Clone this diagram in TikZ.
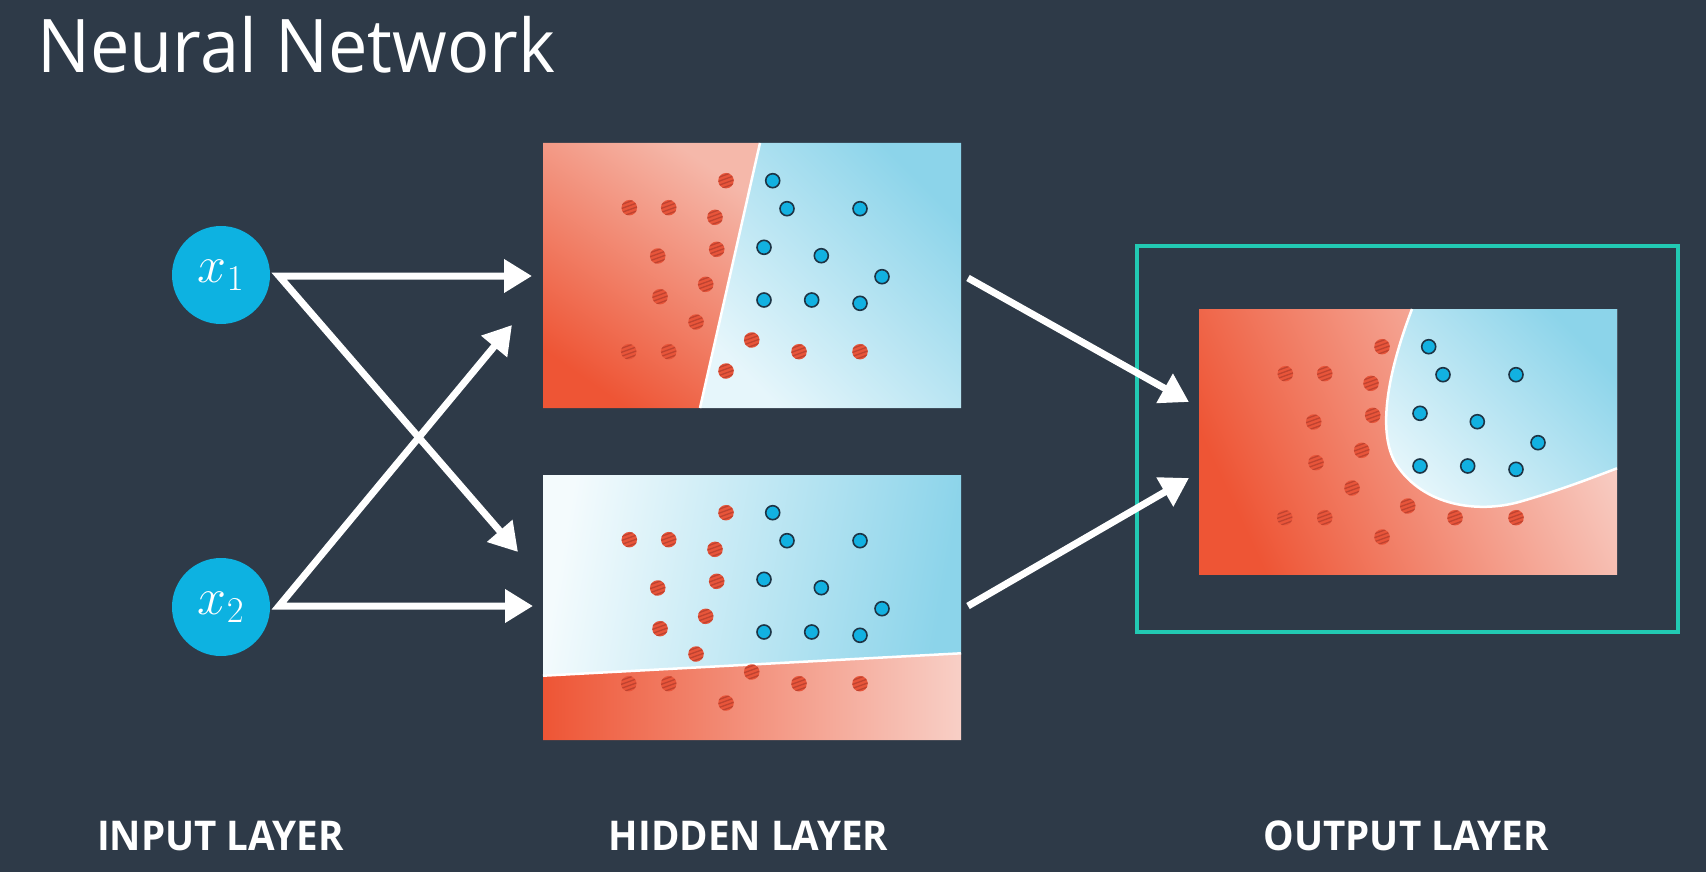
\documentclass[tikz,border=0pt]{standalone}
\usepackage{fix-cm}
\usepackage[no-math]{fontspec}
\setmainfont{Open Sans}
\newfontfamily\titlefont[FakeStretch=0.95]{Open Sans}
\newfontfamily\labelfont[FakeStretch=0.94]{Open Sans}
\usetikzlibrary{arrows.meta}
\definecolor{bg}{HTML}{2E3A48}
\definecolor{nodecyan}{HTML}{0DB2E1}
\definecolor{frameteal}{HTML}{22C9B3}
\definecolor{redS}{HTML}{EE5535}
\definecolor{redL}{HTML}{F8CFC6}
\definecolor{redM}{HTML}{F5B8AA}
\definecolor{blueS}{HTML}{8CD4EA}
\definecolor{blueL}{HTML}{E6F6FB}
\definecolor{blueW}{HTML}{F4FBFD}
\definecolor{dotred}{HTML}{E8553A}
\definecolor{dotstripe}{HTML}{BF4330}
\definecolor{dotblue}{HTML}{12B1E1}
\definecolor{dotline}{HTML}{1D3445}
\tikzset{
  rdot/.style={circle, inner sep=0pt, minimum size=15.5pt, fill=dotred,
    path picture={\foreach \k in {-6,-2,2,6}{\draw[dotstripe, line width=1.3pt]
      ([xshift=-10pt,yshift=\k pt-3.6pt]path picture bounding box.center) --
      ([xshift=10pt,yshift=\k pt+3.6pt]path picture bounding box.center);}}},
  bdot/.style={circle, inner sep=0pt, minimum size=14pt, fill=dotblue, draw=dotline, line width=1.6pt},
  inode/.style={circle, fill=nodecyan, minimum size=98pt, inner sep=0pt, text=white, font=\fontsize{52}{56}\selectfont},
  arrowline/.style={draw=white, line width=7pt, line join=miter},
  bnd/.style={draw=white, line width=2.5pt},
  lbl/.style={text=white, anchor=base, font=\labelfont\bfseries\fontsize{41}{44}\selectfont},
  tip/.tip={Triangle[length=28pt,width=32pt]}
}
\newcommand\drawdots[1]{%
  \foreach \px/\py [count=\i] in {183/37.7, 86.3/64.7, 125.7/64.7, 172/74.3, 114.7/113, 173.7/106.3,
     162.7/141.3, 117/153.7, 153/179, 85.7/208.7, 125.7/208.7, 208.7/197, 256/208.7, 317/208.7, 183/228}
    {\node[rdot] (#1r\i) at (\px,\py) {};}
  \foreach \px/\py [count=\i] in {229.7/37.7, 244/65.7, 317/65.7, 221/104.3, 278.3/112.7, 339/133.7,
     221/157, 268.7/157, 317/160.3}
    {\node[bdot] (#1b\i) at (\px,\py) {};}
}
\begin{document}
\begin{tikzpicture}[x=1pt,y=-1pt]
\fill[bg] (0,0) rectangle (1706,872);
\useasboundingbox (0,0) rectangle (1706,872);

% title
\node[anchor=base west, inner sep=0pt, text=white, font=\titlefont\fontsize{74}{80}\selectfont] (title) at (37,73) {Neural Network};

% input nodes
\node[inode] (x1) at (221,275) {$x_1$};
\node[inode] (x2) at (221,607) {$x_2$};

% top hidden panel
\begin{scope}[shift={(543,143)}]
  \shade[top color=redM, bottom color=redS, shading angle=-35] (0,0) -- (217,0) -- (157,265) -- (0,265) -- cycle;
  \shade[top color=blueS, bottom color=blueL, shading angle=-45] (217,0) -- (418,0) -- (418,265) -- (157,265) -- cycle;
  \draw[bnd] (217,0) -- (157,265);
  \drawdots{t}
\end{scope}
\node[minimum width=418pt, minimum height=265pt, inner sep=0pt] (top) at (752,275.5) {};

% bottom hidden panel
\begin{scope}[shift={(543,475)}]
  \shade[left color=blueW, right color=blueS, shading angle=80] (0,0) -- (418,0) -- (418,178.3) -- (0,200.7) -- cycle;
  \shade[left color=redS, right color=redL] (0,200.7) -- (418,178.3) -- (418,265) -- (0,265) -- cycle;
  \draw[bnd] (0,200.7) -- (418,178.3);
  \drawdots{m}
\end{scope}
\node[minimum width=418pt, minimum height=266pt, inner sep=0pt] (bot) at (752,608) {};

% output panel
\node[draw=frameteal, line width=3.5pt, minimum width=541pt, minimum height=386pt, inner sep=0pt] (frame) at (1407.5,439) {};
\begin{scope}[shift={(1199,309)}]
  \shade[top color=redL, bottom color=redS, shading angle=-65] (0,0) rectangle (418,265);
  \shade[top color=blueS, bottom color=blueL, shading angle=-45]
    (213,0) .. controls (192,55) and (176,120) .. (197,155)
    .. controls (225,198) and (280,204) .. (320,193)
    .. controls (355,183) and (385,172) .. (418,159.3) -- (418,0) -- cycle;
  \draw[bnd] (213,0) .. controls (192,55) and (176,120) .. (197,155)
    .. controls (225,198) and (280,204) .. (320,193)
    .. controls (355,183) and (385,172) .. (418,159.3);
  \drawdots{o}
\end{scope}
\node[minimum width=418pt, minimum height=265pt, inner sep=0pt] (out) at (1408,441.5) {};

% connectors
\coordinate (x1o) at (279,276);
\coordinate (x2o) at (279,606);
\coordinate (t1) at (532,276);
\coordinate (t2) at (518,552);
\coordinate (t3) at (512,325);
\coordinate (t4) at (533,606);
\coordinate (s5) at (968,278);
\coordinate (t5) at (1189,402);
\coordinate (s6) at (968,606);
\coordinate (t6) at (1189,478);
\draw[arrowline, {tip}-{tip}] (t1) -- (x1o) -- (t2);
\draw[arrowline, {tip}-{tip}] (t3) -- (x2o) -- (t4);
\draw[arrowline, -{tip}] (s5) -- (t5);
\draw[arrowline, -{tip}] (s6) -- (t6);

% labels
\node[lbl] (lin) at (220.5,850) {INPUT LAYER};
\node[lbl] (lhid) at (748.5,850) {HIDDEN LAYER};
\node[lbl] (lout) at (1406,850) {OUTPUT LAYER};
\end{tikzpicture}
\end{document}
